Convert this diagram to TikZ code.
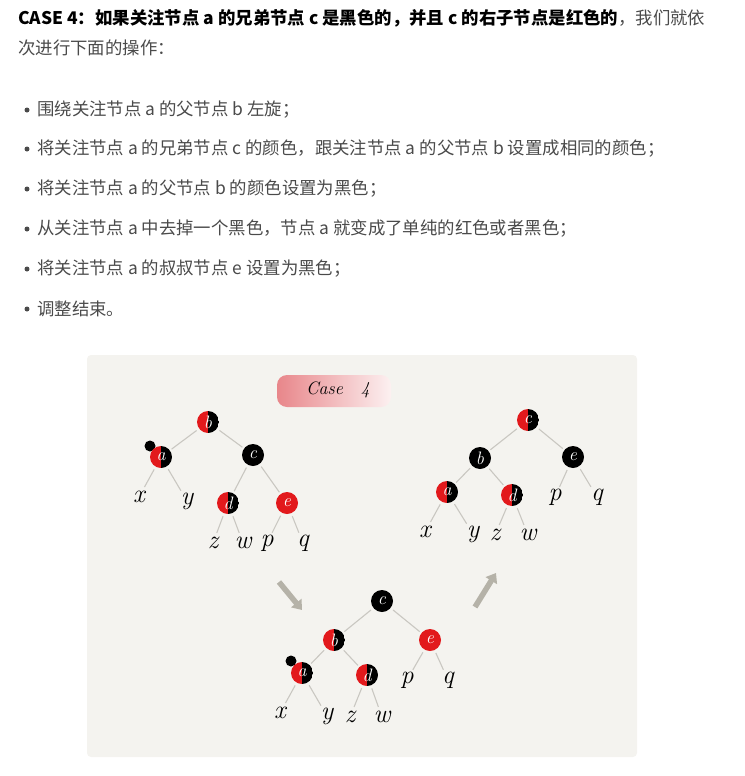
\documentclass[tikz,border=0pt]{standalone}
\usepackage{fontspec}
\newfontfamily\cjkfont{Noto Sans CJK SC}
\usetikzlibrary{arrows.meta}
\definecolor{paper}{HTML}{F4F3EF}
\definecolor{rbred}{HTML}{E2191C}
\definecolor{linkgray}{HTML}{C9C7C1}
\definecolor{txtgray}{HTML}{4A4A4A}
\definecolor{arrowgray}{HTML}{B5B2A8}
\definecolor{blobred}{HTML}{E8868A}

\begin{document}
\begin{tikzpicture}[x=1pt, y=-1pt, >=Triangle,
  every node/.style={inner sep=0pt},
  rbnode/.style={circle, minimum size=22pt, text=white, font=\itshape\fontsize{18}{18}\selectfont,
    path picture={
      \fill[rbred] (path picture bounding box.south west) rectangle (path picture bounding box.north);
      \fill[black] (path picture bounding box.south) rectangle (path picture bounding box.north east);}},
  blknode/.style={circle, fill=black, minimum size=22pt, text=white, font=\itshape\fontsize{18}{18}\selectfont},
  rednode/.style={circle, fill=rbred, minimum size=22pt, text=white, font=\itshape\fontsize{18}{18}\selectfont},
  extrablk/.style={circle, fill=black, minimum size=11pt},
  leaf/.style={minimum size=16pt, font=\itshape\fontsize{26}{26}\selectfont},
  link/.style={linkgray, line width=1.1pt, shorten <=3pt, shorten >=2pt},
  fatarrow/.style={arrowgray, line width=5.5pt, -{Triangle[width=13pt, length=9pt]}},
  para/.style={anchor=west, font=\cjkfont\fontsize{17.4}{17.4}\selectfont, text=txtgray}]
  \useasboundingbox (0,0) rectangle (744,776);
  % Heading
  \node[para] (head1) at (18,18) {\textcolor{black}{\bfseries CASE 4：如果关注节点 a 的兄弟节点 c 是黑色的，并且 c 的右子节点是红色的}，我们就依};
  \node[para] (head2) at (18,48) {次进行下面的操作：};
  % Bullet list
  \foreach \ty/\txt [count=\i] in {110/{围绕关注节点 a 的父节点 b 左旋；},
      149/{将关注节点 a 的兄弟节点 c 的颜色，跟关注节点 a 的父节点 b 设置成相同的颜色；},
      189/{将关注节点 a 的父节点 b 的颜色设置为黑色；},
      229/{从关注节点 a 中去掉一个黑色，节点 a 就变成了单纯的红色或者黑色；},
      269/{将关注节点 a 的叔叔节点 e 设置为黑色；},
      309/{调整结束。}} {
    \node[circle, fill=txtgray, minimum size=5pt] (dot\i) at (27,\ty) {};
    \node[para] (item\i) at (37,\ty) {\txt};
  }
  % Paper panel
  \fill[paper, rounded corners=4pt] (87,355) rectangle (637,757);
  \node[rounded corners=10pt, minimum width=114pt, minimum height=32pt,
    left color=blobred, right color=blobred!12] (tag) at (334,391) {};
  \node[font=\itshape\fontsize{18}{18}\selectfont] (tagtxt) at (338,390) {Case\quad 4};
  % Tree before rotation
  \node[extrablk] (k1) at (150,446) {};
  \node[rbnode] (b1) at (208,422) {b};
  \node[rbnode] (a1) at (161,457) {a};
  \node[blknode] (c1) at (253,455) {c};
  \node[rbnode] (d1) at (228,503) {d};
  \node[rednode] (e1) at (287,503) {e};
  \node[leaf] (x1) at (139,497) {x};
  \node[leaf] (y1) at (187,501) {y};
  \node[leaf] (z1) at (213,543) {z};
  \node[leaf] (w1) at (243,543) {w};
  \node[leaf] (p1) at (267,543) {p};
  \node[leaf] (q1) at (303,543) {q};
  \draw[link] (b1) -- (a1);
  \draw[link] (b1) -- (c1);
  \draw[link] (a1) -- (x1);
  \draw[link] (a1) -- (y1);
  \draw[link] (c1) -- (d1);
  \draw[link] (c1) -- (e1);
  \draw[link] (d1) -- (z1);
  \draw[link] (d1) -- (w1);
  \draw[link] (e1) -- (p1);
  \draw[link] (e1) -- (q1);
  % Tree after left rotation
  \node[extrablk] (k3) at (291,661) {};
  \node[blknode] (c3) at (382,601) {c};
  \node[rbnode] (b3) at (334,640) {b};
  \node[rednode] (e3) at (430,640) {e};
  \node[rbnode] (a3) at (302,673) {a};
  \node[rbnode] (d3) at (367,675) {d};
  \node[leaf] (p3) at (407,680) {p};
  \node[leaf] (q3) at (448,680) {q};
  \node[leaf] (x3) at (280,713) {x};
  \node[leaf] (y3) at (327,716) {y};
  \node[leaf] (z3) at (350,717) {z};
  \node[leaf] (w3) at (382,717) {w};
  \draw[link] (c3) -- (b3);
  \draw[link] (c3) -- (e3);
  \draw[link] (b3) -- (a3);
  \draw[link] (b3) -- (d3);
  \draw[link] (e3) -- (p3);
  \draw[link] (e3) -- (q3);
  \draw[link] (a3) -- (x3);
  \draw[link] (a3) -- (y3);
  \draw[link] (d3) -- (z3);
  \draw[link] (d3) -- (w3);
  % Tree after recolouring
  \node[rbnode] (c2) at (528,420) {c};
  \node[blknode] (b2) at (480,458) {b};
  \node[blknode] (e2) at (573,457) {e};
  \node[rbnode] (a2) at (447,492) {a};
  \node[rbnode] (d2) at (512,495) {d};
  \node[leaf] (p2) at (555,497) {p};
  \node[leaf] (q2) at (597,497) {q};
  \node[leaf] (x2) at (425,532) {x};
  \node[leaf] (y2) at (473,534) {y};
  \node[leaf] (z2) at (495,535) {z};
  \node[leaf] (w2) at (528,535) {w};
  \draw[link] (c2) -- (b2);
  \draw[link] (c2) -- (e2);
  \draw[link] (b2) -- (a2);
  \draw[link] (b2) -- (d2);
  \draw[link] (e2) -- (p2);
  \draw[link] (e2) -- (q2);
  \draw[link] (a2) -- (x2);
  \draw[link] (a2) -- (y2);
  \draw[link] (d2) -- (z2);
  \draw[link] (d2) -- (w2);
  % Step arrows
  \coordinate (s1) at (279,582);
  \coordinate (t1) at (302,610);
  \coordinate (s2) at (475,607);
  \coordinate (t2) at (496,573);
  \draw[fatarrow] (s1) -- (t1);
  \draw[fatarrow] (s2) -- (t2);
\end{tikzpicture}
\end{document}
